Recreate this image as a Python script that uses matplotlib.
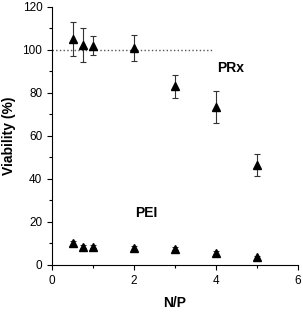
import numpy as np
import matplotlib.pyplot as plt
from matplotlib.ticker import MultipleLocator

plt.rcParams['font.family'] = ['Liberation Sans', 'DejaVu Sans']

np_ratio = [0.5, 0.75, 1, 2, 3, 4, 5]
prx = [105, 102.3, 102, 101, 83, 73.3, 46.5]
prx_err = [8, 8, 4.5, 6, 5.5, 7.5, 5]
pei = [10, 8.5, 8.5, 7.8, 7.5, 5.5, 3.5]
pei_err = [1, 0.8, 0.8, 0.8, 0.8, 0.8, 0.6]

fig = plt.figure(figsize=(3.03, 3.12), dpi=100)
ax = fig.add_axes([0.172, 0.151, 0.811, 0.827])

ax.plot([0, 3.9], [100, 100], ':', color='#555555', lw=1)
ax.errorbar(np_ratio, prx, yerr=prx_err, fmt='^', color='black', ms=6,
            ecolor='#333333', elinewidth=0.8, capsize=2.5, capthick=0.8)
ax.errorbar(np_ratio, pei, yerr=pei_err, fmt='^', color='black', ms=6,
            ecolor='#333333', elinewidth=0.8, capsize=2.5, capthick=0.8)

ax.text(4.37, 91.5, 'PRx', fontsize=10, fontweight='bold', ha='center', va='center')
ax.text(2.3, 24, 'PEI', fontsize=10, fontweight='bold', ha='center', va='center')

ax.set_xlim(0, 6)
ax.set_ylim(0, 120)
ax.xaxis.set_major_locator(MultipleLocator(2))
ax.xaxis.set_minor_locator(MultipleLocator(1))
ax.yaxis.set_major_locator(MultipleLocator(20))
ax.yaxis.set_minor_locator(MultipleLocator(10))
ax.spines['top'].set_visible(False)
ax.spines['right'].set_visible(False)
ax.tick_params(labelsize=8.5, length=3.5, width=0.8)
ax.tick_params(which='minor', length=2, width=0.8)
ax.set_xlabel('N/P', fontsize=10, fontweight='bold', labelpad=7)
ax.set_ylabel('Viability (%)', fontsize=10, fontweight='bold', labelpad=5)

fig.savefig('out.png', dpi=100)
